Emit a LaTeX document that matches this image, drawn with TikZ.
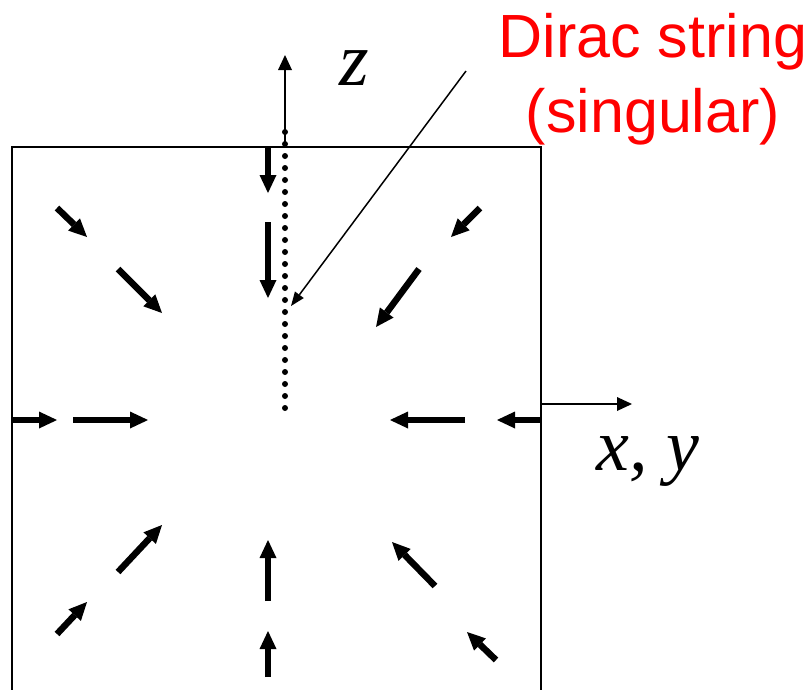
\documentclass[tikz,border=0pt]{standalone}
\usepackage{fontspec}
\usepackage{tikz}
\usetikzlibrary{arrows.meta}
\newfontfamily\labelfont{Liberation Sans}
\newfontfamily\axisfont{Liberation Serif}

\begin{document}
\begin{tikzpicture}[x=1pt,y=-1pt,
        fieldarrow/.style={line width=6.5pt,-{Triangle[length=18pt,width=17pt,line width=0pt]}},
        axisline/.style={line width=1.5pt,-{Triangle[length=15pt,width=14pt,line width=0pt]}}]
            \useasboundingbox (0,0) rectangle (809,689);
            % box, open at the bottom
            \draw[line width=2pt] (12,695) -- (12,147) -- (541,147) -- (541,695);
            % axes
            \draw[axisline] (285,147) -- (285,55);
            \draw[axisline] (541,404) -- (632,404);
            \node (zlabel) at (336,85) [anchor=base west,font=\fontsize{76}{80}\selectfont\axisfont\itshape] {z};
            \node (xylabel) at (596,470) [anchor=base west,inner sep=0pt,font=\fontsize{74}{80}\selectfont\axisfont\itshape] {x, y};
            % Dirac string
            \draw[line width=6pt,line cap=round,dash pattern=on 0pt off 12pt] (285,132) -- (285,408);
            \node (dirac) at (653,13) [anchor=north,inner sep=0pt,align=center,text=red,font=\fontsize{61}{75}\selectfont\labelfont] {Dirac string\\(singular)};
            \coordinate (dstail) at (466,71);
            \coordinate (dstip) at (291,306);
            \draw[line width=1.5pt,-{Triangle[length=14pt,width=11pt,line width=0pt]}] (dstail) -- (dstip);
            % field of the monopole
            \draw[fieldarrow] (57,208) -- (87,237);
            \draw[fieldarrow] (118,269) -- (162,313);
            \draw[fieldarrow] (268,148) -- (268,193);
            \draw[fieldarrow] (268,222) -- (268,298);
            \draw[fieldarrow] (480,208) -- (451,237);
            \draw[fieldarrow] (419,269) -- (376,327);
            \draw[fieldarrow] (12,420) -- (57,420);
            \draw[fieldarrow] (73,420) -- (148,420);
            \draw[fieldarrow] (465,420) -- (390,420);
            \draw[fieldarrow] (541,420) -- (497,420);
            \draw[fieldarrow] (118,572) -- (162,525);
            \draw[fieldarrow] (57,634) -- (87,602);
            \draw[fieldarrow] (268,601) -- (268,540);
            \draw[fieldarrow] (268,677) -- (268,631);
            \draw[fieldarrow] (435,586) -- (392,542);
            \draw[fieldarrow] (496,660) -- (467,632);
        \end{tikzpicture}
\end{document}
